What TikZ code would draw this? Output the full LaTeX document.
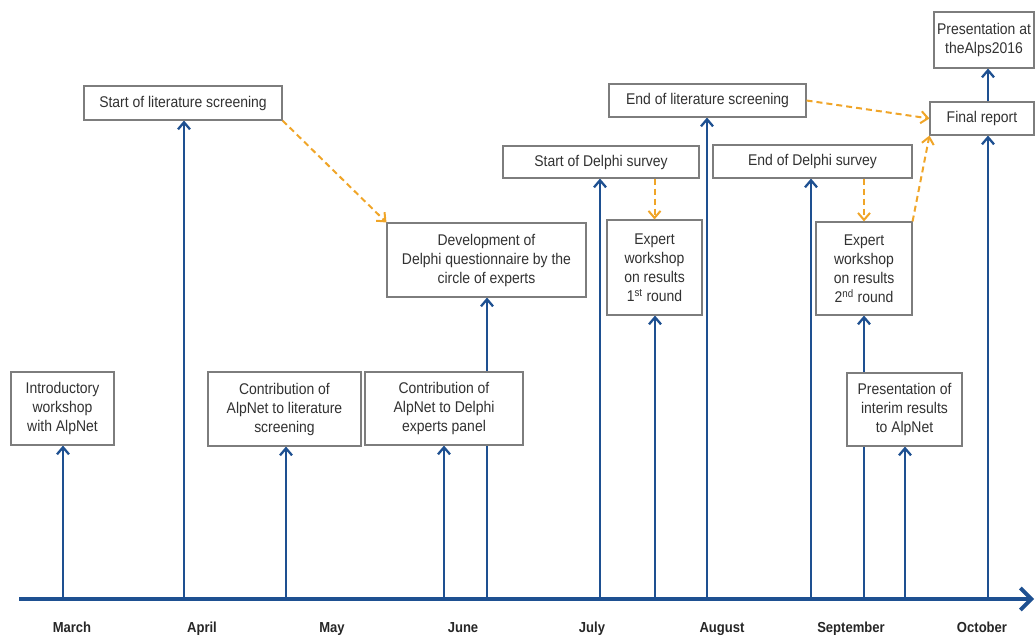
\documentclass[tikz,border=0pt]{standalone}
\usepackage{fontspec}
\setmainfont[FakeStretch=0.9]{Liberation Sans}
\usetikzlibrary{arrows.meta,backgrounds}
\definecolor{tlblue}{RGB}{30,80,145}
\definecolor{tlorange}{RGB}{240,165,40}
\definecolor{boxgray}{RGB}{125,125,125}
\definecolor{txtgray}{RGB}{50,50,50}
\begin{document}
\begin{tikzpicture}[x=1pt,y=-1pt,
  box/.style={draw=boxgray, line width=1.1pt, fill=white, align=center, inner sep=0pt, text=txtgray, font=\fontsize{15.5}{19}\selectfont},
  uparr/.style={draw=tlblue, line width=2.3pt, -{Straight Barb[length=7pt,width=12pt]}},
  orangearr/.style={draw=tlorange, line width=2pt, dash pattern=on 6pt off 4pt, -{Straight Barb[length=7pt,width=12pt]}},
  axisline/.style={draw=tlblue, line width=3.8pt, -{Straight Barb[length=11pt,width=22pt]}},
  month/.style={font=\fontsize{14.5}{16}\selectfont\bfseries, text=black!85, anchor=base}]
\useasboundingbox (0,0) rectangle (1035,636);

% boxes
\node[box, minimum width=103pt, minimum height=73pt] (intro) at (62.5,408.5) {Introductory\\workshop\\with AlpNet};
\node[box, minimum width=198pt, minimum height=34pt] (startlit) at (183,103) {Start of literature screening};
\node[box, minimum width=153pt, minimum height=74pt] (contlit) at (284.5,409) {Contribution of\\AlpNet to literature\\screening};
\node[box, minimum width=158pt, minimum height=73pt] (contdel) at (444,408.5) {Contribution of\\AlpNet to Delphi\\experts panel};
\node[box, minimum width=199pt, minimum height=74pt] (dev) at (486.5,260) {Development of\\Delphi questionnaire by the\\circle of experts};
\node[box, minimum width=196pt, minimum height=32pt] (startdel) at (601,162) {Start of Delphi survey};
\node[box, minimum width=95pt, minimum height=95pt] (exp1) at (654.5,267.5) {Expert\\workshop\\on results\\1\textsuperscript{st} round};
\node[box, minimum width=197pt, minimum height=33pt] (endlit) at (707.5,100.5) {End of literature screening};
\node[box, minimum width=199pt, minimum height=33pt] (enddel) at (812.5,161.5) {End of Delphi survey};
\node[box, minimum width=96pt, minimum height=93pt] (exp2) at (864,268.5) {Expert\\workshop\\on results\\2\textsuperscript{nd} round};
\node[box, minimum width=115pt, minimum height=73pt] (interim) at (904.5,409.5) {Presentation of\\interim results\\to AlpNet};
\node[box, minimum width=104pt, minimum height=33pt] (final) at (982,118.5) {Final report};
\node[box, minimum width=100pt, minimum height=56pt] (alps) at (984,40) {Presentation at\\theAlps2016};

% axis and ticks
\coordinate (axs) at (19,599);
\coordinate (axe) at (1034,599);
\coordinate (t1) at (63,599);
\coordinate (t2) at (184,599);
\coordinate (t3) at (286,599);
\coordinate (t4) at (444,599);
\coordinate (t5) at (487,599);
\coordinate (t6) at (600,599);
\coordinate (t7) at (655,599);
\coordinate (t8) at (707,599);
\coordinate (t9) at (811,599);
\coordinate (t10) at (864,599);
\coordinate (t11) at (905,599);
\coordinate (t12) at (988,599);

\begin{scope}[on background layer]
\draw[uparr] (t1) -- (t1 |- intro.south);
\draw[uparr] (t2) -- (t2 |- startlit.south);
\draw[uparr] (t3) -- (t3 |- contlit.south);
\draw[uparr] (t4) -- (t4 |- contdel.south);
\draw[uparr] (t5) -- (t5 |- dev.south);
\draw[uparr] (t6) -- (t6 |- startdel.south);
\draw[uparr] (t7) -- (t7 |- exp1.south);
\draw[uparr] (t8) -- (t8 |- endlit.south);
\draw[uparr] (t9) -- (t9 |- enddel.south);
\draw[uparr] (t10) -- (t10 |- exp2.south);
\draw[uparr] (t11) -- (t11 |- interim.south);
\draw[uparr] (t12) -- (t12 |- final.south);
\end{scope}
\draw[uparr] (t12 |- final.north) -- (t12 |- alps.south);
\draw[axisline] (axs) -- (axe);

% orange dashed
\draw[orangearr] (startlit.south east) -- (dev.north west);
\draw[orangearr] (exp1.north |- startdel.south) -- (exp1.north);
\draw[orangearr] (endlit.east) -- (final.west);
\draw[orangearr] (exp2.north |- enddel.south) -- (exp2.north);
\draw[orangearr] (exp2.north east) -- (final.south west);

% months
\node[month] (m1) at (72,632) {March};
\node[month] (m2) at (202,632) {April};
\node[month] (m3) at (332,632) {May};
\node[month] (m4) at (463,632) {June};
\node[month] (m5) at (592,632) {July};
\node[month] (m6) at (722,632) {August};
\node[month] (m7) at (851,632) {September};
\node[month] (m8) at (982,632) {October};
\end{tikzpicture}
\end{document}
